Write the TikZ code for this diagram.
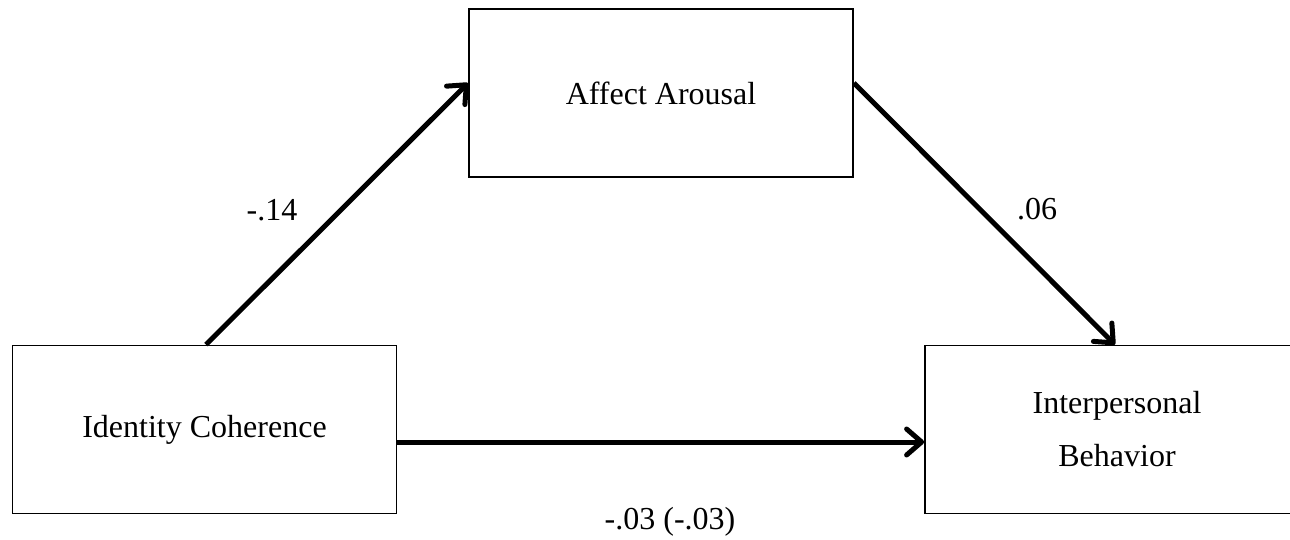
\documentclass[tikz,border=0pt]{standalone}
\usepackage{fontspec}
\setmainfont{Liberation Serif}
\usetikzlibrary{arrows.meta,calc}
\begin{document}
\begin{tikzpicture}[x=1pt,y=-1pt,
  box/.style={draw=black,line width=1.8pt,minimum width=384pt,minimum height=168pt,inner sep=0pt,align=center,font=\fontsize{32}{53}\selectfont},
  lbl/.style={inner sep=0pt,font=\fontsize{32}{38}\selectfont},
  path/.style={line width=5pt,-{Straight Barb[length=15pt,width=26pt,round]}}]
\fill[white] (0,0) rectangle (1290,540);
\useasboundingbox (0,0) rectangle (1290,540);
\node[box] (aff) at (661,93) {Affect Arousal};
\node[box] (ident) at (204.5,429.5) {Identity Coherence};
\node[box] (inter) at (1117,429.5) {Interpersonal\\Behavior};
\node[lbl] (l1) at (272,210) {-.14};
\node[lbl] (l2) at (1037,209) {.06};
\node[lbl] (l3) at (670,522) {-.03 (-.03)};
\draw[path] ([xshift=1.5pt]ident.north) -- ([yshift=10pt]aff.west);
\draw[path] ([yshift=10pt]aff.east) -- ([xshift=-2pt]inter.north);
\draw[path] ([yshift=-12.5pt]ident.east) -- ([yshift=-12.5pt]inter.west);
\end{tikzpicture}
\end{document}
